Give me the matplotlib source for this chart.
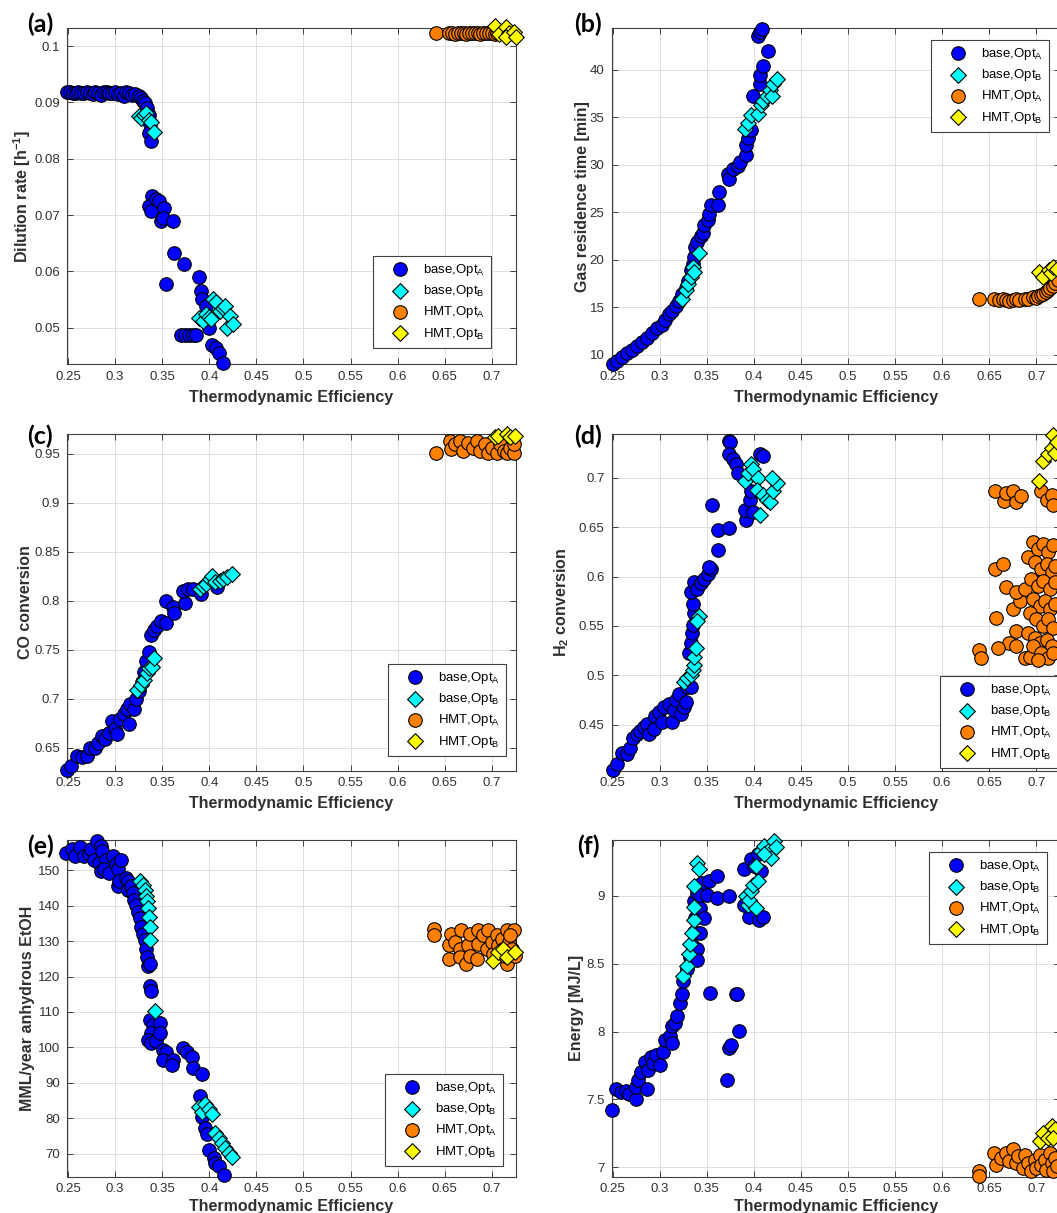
import matplotlib
matplotlib.use('Agg')
import matplotlib.pyplot as plt
from matplotlib.ticker import FormatStrFormatter

plt.rcParams['font.family'] = ['Liberation Sans', 'DejaVu Sans']
plt.rcParams['mathtext.fontset'] = 'custom'
plt.rcParams['mathtext.rm'] = 'Liberation Sans'

# ---------------- data: (a) dilution rate ----------------
a_baseA_x = [0.249, 0.252, 0.255, 0.258, 0.261, 0.264, 0.267, 0.270, 0.273, 0.276, 0.279, 0.282, 0.285,
             0.288, 0.291, 0.294, 0.297, 0.300, 0.303, 0.306, 0.309, 0.312, 0.315, 0.318, 0.321,
             0.325, 0.328, 0.330, 0.332, 0.334, 0.336, 0.337, 0.3358, 0.3376,
             0.3394, 0.3358, 0.3376, 0.343, 0.3466, 0.352, 0.3483, 0.3505,
             0.3617, 0.3627, 0.3735, 0.3537,
             0.3896, 0.391, 0.392, 0.3968, 0.400, 0.400,
             0.370, 0.374, 0.378, 0.383, 0.386,
             0.4033, 0.4076, 0.4104, 0.4148]
a_baseA_y = [0.0918, 0.0919, 0.0917, 0.0916, 0.0918, 0.0917, 0.0916, 0.0918, 0.0917, 0.0915, 0.0919, 0.0916, 0.0914,
             0.0918, 0.0919, 0.0917, 0.0916, 0.0918, 0.0915, 0.0917, 0.0912, 0.0919, 0.0916, 0.0913, 0.0915,
             0.0912, 0.0908, 0.0903, 0.0899, 0.0890, 0.0878, 0.0862, 0.0845, 0.0831,
             0.0734, 0.0716, 0.0707, 0.0728, 0.0725, 0.0713, 0.0689, 0.0695,
             0.0689, 0.0632, 0.0614, 0.0578,
             0.0590, 0.0566, 0.0551, 0.0539, 0.0515, 0.0499,
             0.0487, 0.0487, 0.0487, 0.0487, 0.0487,
             0.0470, 0.0464, 0.0455, 0.0437]
a_baseB_x = [0.325, 0.328, 0.331, 0.333, 0.3358, 0.3376, 0.3412,
             0.3896, 0.393, 0.3968, 0.400, 0.402, 0.404, 0.4075, 0.411, 0.4145, 0.4165, 0.4183, 0.422, 0.4255]
a_baseB_y = [0.0875, 0.0872, 0.0878, 0.0881, 0.0869, 0.0866, 0.0848,
             0.0518, 0.0512, 0.0524, 0.0520, 0.0515, 0.0551, 0.0545, 0.0530, 0.0535, 0.0539, 0.0500, 0.0521, 0.0506]
a_hmtA_x = [0.6408, 0.655, 0.658, 0.661, 0.664, 0.667, 0.670, 0.673, 0.676, 0.679, 0.682, 0.685, 0.688,
            0.691, 0.694, 0.697, 0.700, 0.703, 0.706, 0.709, 0.712, 0.715, 0.718, 0.721, 0.724]
a_hmtA_y = [0.1023, 0.1023, 0.1024, 0.1022, 0.1023, 0.1023, 0.1024, 0.1022, 0.1023, 0.1023, 0.1023, 0.1024, 0.1022,
            0.1023, 0.1023, 0.1024, 0.1023, 0.1022, 0.1023, 0.1024, 0.1023, 0.1022, 0.1023, 0.1024, 0.1022]
a_hmtB_x = [0.7036, 0.7072, 0.7151, 0.718, 0.7151, 0.7234, 0.7252]
a_hmtB_y = [0.1035, 0.1022, 0.1033, 0.1023, 0.1016, 0.1025, 0.1016]

# ---------------- data: (b) gas residence time ----------------
b_baseA_x = [0.2500, 0.2543, 0.2597, 0.2650, 0.2704, 0.2758, 0.2810, 0.2865, 0.2920, 0.2973, 0.3026, 0.3062,
             0.3100, 0.3134, 0.3170, 0.3205, 0.3241, 0.3277, 0.3306, 0.3330, 0.3350, 0.3366, 0.3374, 0.3402,
             0.3440, 0.3456, 0.3474, 0.3510, 0.3528, 0.3545, 0.3617, 0.3635, 0.3724, 0.3742, 0.3778, 0.3832,
             0.3850, 0.3920, 0.3914, 0.3940, 0.3975, 0.3993, 0.4065, 0.4065, 0.4100, 0.4154, 0.4047, 0.4065, 0.4090]
b_baseA_y = [9.1, 9.36, 9.8, 10.2, 10.5, 10.9, 11.35, 11.8, 12.3, 12.85, 13.2, 13.7,
             14.3, 14.6, 15.2, 15.7, 16.4, 17.1, 17.8, 18.9, 19.6, 20.3, 21.4, 21.9,
             22.5, 22.8, 23.7, 24.2, 24.8, 25.8, 25.8, 27.1, 29.0, 28.5, 29.6, 29.9,
             30.3, 31.0, 32.1, 32.8, 33.7, 37.2, 38.5, 39.5, 40.4, 42.0, 43.6, 44.0, 44.3]
b_baseB_x = [0.3241, 0.3277, 0.3306, 0.3330, 0.3350, 0.3366, 0.3420,
             0.3903, 0.3940, 0.3975, 0.4047, 0.4080, 0.4100, 0.4136, 0.4172, 0.4190, 0.4208, 0.4243]
b_baseB_y = [15.9, 16.8, 17.5, 18.2, 19.3, 18.7, 20.7,
             33.8, 34.4, 35.3, 35.4, 36.3, 36.7, 37.2, 37.9, 37.2, 38.5, 39.0]
b_hmtA_x = [0.6392, 0.6555, 0.6600, 0.6645, 0.6680, 0.6714, 0.6750, 0.6785, 0.6820, 0.6875, 0.6910,
            0.6964, 0.7000, 0.7020, 0.7050, 0.7070, 0.7100, 0.7126, 0.7150, 0.7180, 0.7200, 0.7230]
b_hmtA_y = [15.87, 15.87, 15.8, 15.9, 15.75, 15.7, 15.8, 15.9, 15.75, 15.9, 15.85,
            16.05, 16.0, 16.2, 16.3, 16.4, 16.6, 16.8, 17.0, 17.3, 17.6, 17.9]
b_hmtB_x = [0.703, 0.707, 0.714, 0.716, 0.718, 0.722]
b_hmtB_y = [18.7, 18.2, 18.9, 18.6, 19.3, 19.0]

# ---------------- data: (c) CO conversion ----------------
c_baseA_x = [0.249, 0.2536, 0.259, 0.2643, 0.2697, 0.2733, 0.279, 0.2823, 0.2859, 0.2895, 0.293, 0.2966,
             0.300, 0.302, 0.3056, 0.3092, 0.3128, 0.3145, 0.3163, 0.320, 0.3217, 0.3253, 0.3289, 0.3307,
             0.3325, 0.336, 0.3379, 0.3414, 0.345, 0.3486, 0.354, 0.354, 0.3612, 0.363, 0.3737, 0.372,
             0.377, 0.3827, 0.3916, 0.4078]
c_baseA_y = [0.627, 0.631, 0.641, 0.640, 0.641, 0.650, 0.650, 0.655, 0.662, 0.659, 0.665, 0.6775,
             0.669, 0.664, 0.679, 0.684, 0.689, 0.674, 0.695, 0.689, 0.700, 0.708, 0.717, 0.727,
             0.738, 0.748, 0.765, 0.770, 0.774, 0.779, 0.777, 0.800, 0.793, 0.7876, 0.798, 0.810,
             0.8117, 0.8117, 0.8066, 0.8134]
c_baseB_x = [0.3235, 0.327, 0.3307, 0.3343, 0.336, 0.3396, 0.3414,
             0.3898, 0.3934, 0.397, 0.4006, 0.4024, 0.406, 0.4114, 0.415, 0.4185, 0.424]
c_baseB_y = [0.7085, 0.7137, 0.7188, 0.7257, 0.7309, 0.7326, 0.7412,
             0.8117, 0.8151, 0.8169, 0.822, 0.8255, 0.8186, 0.8203, 0.822, 0.8238, 0.8272]
c_hmtA_x = [0.6409, 0.6552, 0.657, 0.6606, 0.666, 0.6696, 0.675, 0.6803, 0.684, 0.6875,
            0.693, 0.6965, 0.70, 0.7054, 0.709, 0.7126, 0.716, 0.7198, 0.7233, 0.7233]
c_hmtA_y = [0.951, 0.963, 0.9545, 0.9596, 0.963, 0.9527, 0.961, 0.956, 0.963, 0.9527,
            0.9596, 0.951, 0.956, 0.951, 0.9596, 0.9527, 0.951, 0.956, 0.951, 0.9596]
c_hmtB_x = [0.7036, 0.707, 0.716, 0.7198, 0.7245]
c_hmtB_y = [0.9665, 0.968, 0.9695, 0.9665, 0.968]

# ---------------- data: (d) H2 conversion ----------------
d_baseA_x = [0.25, 0.2543, 0.2597, 0.265, 0.2686, 0.272, 0.2758, 0.2794, 0.283, 0.2865, 0.2883, 0.2937,
             0.2955, 0.299, 0.3026, 0.3044, 0.31, 0.3134, 0.3152, 0.317, 0.3205, 0.3223, 0.3259, 0.3277,
             0.3295, 0.333, 0.3313, 0.333, 0.3341, 0.335, 0.3366, 0.335, 0.333, 0.3366, 0.3402, 0.344,
             0.3474, 0.351, 0.3546, 0.3527, 0.3556, 0.3617, 0.3617, 0.3742, 0.3735, 0.3752, 0.3742, 0.3778,
             0.3814, 0.3832, 0.3921, 0.3903, 0.3957, 0.3993, 0.4065, 0.41, 0.3975]
d_baseA_y = [0.4046, 0.4097, 0.4217, 0.42, 0.4268, 0.437, 0.4405, 0.4439, 0.4473, 0.4507, 0.4405, 0.4456,
             0.4592, 0.4627, 0.4524, 0.4678, 0.4712, 0.4524, 0.4644, 0.4746, 0.4814, 0.461, 0.4678, 0.4729,
             0.4883, 0.4883, 0.5224, 0.5327, 0.5429, 0.5514, 0.5634, 0.572, 0.5839, 0.5941, 0.5873, 0.594,
             0.5976, 0.6027, 0.6078, 0.6095, 0.6727, 0.647, 0.6266, 0.6488, 0.7376, 0.7359, 0.724, 0.7188,
             0.7137, 0.705, 0.6573, 0.6676, 0.6778, 0.6659, 0.724, 0.722, 0.6863]
d_baseB_x = [0.3259, 0.3295, 0.333, 0.335, 0.3366, 0.3366, 0.3384, 0.342, 0.3402,
             0.3903, 0.394, 0.3975, 0.3993, 0.4047, 0.403, 0.41, 0.4136, 0.4172, 0.4208, 0.4243, 0.419, 0.4065]
d_baseB_y = [0.4934, 0.4968, 0.5002, 0.5054, 0.5105, 0.519, 0.5275, 0.56, 0.5549,
             0.6966, 0.7051, 0.7137, 0.7085, 0.70, 0.688, 0.683, 0.678, 0.676, 0.6863, 0.6949, 0.70, 0.6624]
d_hmtA_x = [0.6563, 0.666, 0.6678, 0.675, 0.6785, 0.684, 0.7054, 0.711, 0.7162, 0.718,
            0.6563, 0.6649, 0.6678, 0.657, 0.675, 0.6822, 0.6785, 0.6875, 0.6785, 0.6714, 0.6589, 0.6392,
            0.641, 0.6875, 0.693, 0.6785,
            0.6912, 0.6964, 0.702, 0.707, 0.7126, 0.718, 0.699, 0.7054, 0.711, 0.7162, 0.72,
            0.6947, 0.702, 0.707, 0.7144, 0.72, 0.6964, 0.7036, 0.709, 0.7144, 0.72,
            0.693, 0.70, 0.707, 0.7126, 0.718, 0.6912, 0.699, 0.7036, 0.711, 0.7162,
            0.6964, 0.7054, 0.7126, 0.718, 0.702]
d_hmtA_y = [0.687, 0.6768, 0.6846, 0.6863, 0.676, 0.6812, 0.687, 0.678, 0.683, 0.6727,
            0.6078, 0.6129, 0.589, 0.5583, 0.5668, 0.5754, 0.5839, 0.5873, 0.5446, 0.5327, 0.5275, 0.5258,
            0.5173, 0.5173, 0.519, 0.5292,
            0.6197, 0.635, 0.6283, 0.6334, 0.6249, 0.6317, 0.6146, 0.6078, 0.6129, 0.6044, 0.6112,
            0.5976, 0.5907, 0.5958, 0.5873, 0.5941, 0.5771, 0.5702, 0.5754, 0.5668, 0.572,
            0.5634, 0.5566, 0.5497, 0.5566, 0.548, 0.5429, 0.5378, 0.5327, 0.5361, 0.5292,
            0.5292, 0.5224, 0.5173, 0.5224, 0.5156]
d_hmtB_x = [0.703, 0.707, 0.7126, 0.7162, 0.718, 0.72, 0.7215]
d_hmtB_y = [0.6973, 0.7171, 0.724, 0.7307, 0.7435, 0.7256, 0.7358]

# ---------------- data: (e) MML/year anhydrous EtOH ----------------
e_baseA_x = [0.2482, 0.2543, 0.2579, 0.2632, 0.2668, 0.2722, 0.2747, 0.2776, 0.2804, 0.2847, 0.2829, 0.2865,
             0.2847, 0.2901, 0.2883, 0.2937, 0.2973, 0.3008, 0.3026, 0.3062, 0.3026, 0.3044, 0.3116, 0.3134,
             0.3134, 0.317, 0.3187, 0.3205, 0.3223, 0.3241, 0.3259, 0.3277, 0.3295, 0.3313, 0.333, 0.3341,
             0.335, 0.3366, 0.3366, 0.3384, 0.3366, 0.3402, 0.3384, 0.335, 0.3384, 0.3438, 0.3474, 0.3474,
             0.351, 0.3545, 0.351, 0.3617, 0.36, 0.3724, 0.376, 0.3814, 0.3832, 0.3921, 0.3903, 0.3921,
             0.3957, 0.3975, 0.3993, 0.4047, 0.4065, 0.41, 0.4154]
e_baseA_y = [154.9, 155.9, 154.0, 156.4, 154.0, 154.5, 155.9, 153.0, 158.3, 156.9, 152.1, 155.4,
             149.7, 153.0, 150.2, 149.2, 154.0, 151.6, 150.2, 153.0, 145.4, 146.9, 147.8, 146.9,
             144.5, 145.4, 143.5, 141.6, 140.2, 138.3, 136.4, 134.0, 132.1, 130.2, 127.8, 125.5,
             123.1, 123.6, 117.4, 116.0, 107.8, 106.4, 104.0, 102.1, 101.2, 101.7, 106.9, 104.0,
             99.3, 98.8, 96.4, 96.4, 95.0, 99.8, 98.8, 97.4, 94.1, 92.6, 86.4, 80.3,
             77.4, 75.5, 71.2, 68.8, 67.4, 66.5, 63.9]
e_baseB_x = [0.3259, 0.3295, 0.3313, 0.333, 0.3341, 0.335, 0.3356, 0.3366, 0.3374, 0.342,
             0.3886, 0.3921, 0.3957, 0.3993, 0.4029, 0.4065, 0.41, 0.4136, 0.4172, 0.4208, 0.4243]
e_baseB_y = [146.9, 145.9, 144.5, 142.6, 141.2, 139.2, 136.9, 134.0, 130.2, 110.2,
             83.1, 81.7, 84.1, 82.6, 81.2, 76.0, 74.5, 73.1, 71.7, 70.3, 69.0]
e_hmtA_x = [0.6391, 0.6391, 0.6551, 0.6551, 0.657, 0.6605, 0.6659, 0.6659, 0.6677, 0.673, 0.6748,
            0.6766, 0.6766, 0.6838, 0.6855, 0.6855, 0.6909, 0.6945, 0.6963, 0.70, 0.7016, 0.7052,
            0.707, 0.7106, 0.7124, 0.716, 0.716, 0.7178, 0.7213, 0.7231, 0.7249, 0.7195, 0.7142]
e_hmtA_y = [133.5, 131.6, 128.8, 125.0, 132.1, 129.7, 127.8, 125.5, 133.1, 123.5, 128.8,
            125.9, 132.1, 125.0, 129.3, 133.1, 131.6, 127.8, 133.1, 129.7, 126.4, 131.6,
            128.8, 130.7, 127.8, 133.1, 123.5, 129.7, 127.8, 133.1, 125.9, 131.6, 125.9]
e_hmtB_x = [0.7016, 0.707, 0.7124, 0.716, 0.7249]
e_hmtB_y = [124.5, 126.9, 127.8, 125.5, 126.9]

# ---------------- data: (f) energy ----------------
f_baseA_x = [0.2493, 0.2536, 0.259, 0.2643, 0.2679, 0.2744, 0.2751, 0.2769, 0.2805, 0.2841, 0.2866, 0.2877,
             0.2912, 0.293, 0.2966, 0.3002, 0.3038, 0.3056, 0.311, 0.3128, 0.3128, 0.3163, 0.3181, 0.3217,
             0.3235, 0.3253, 0.3289, 0.3325, 0.3343, 0.336, 0.3378, 0.336, 0.3396, 0.3414, 0.345, 0.3432,
             0.3468, 0.3432, 0.3396, 0.3396, 0.3432, 0.3504, 0.3522, 0.3611, 0.3611, 0.3737, 0.354, 0.3719,
             0.3737, 0.3755, 0.381, 0.3827, 0.3845, 0.3898, 0.3898, 0.3952, 0.397, 0.4006, 0.4059, 0.4095,
             0.4041, 0.4077]
f_baseA_y = [7.422, 7.579, 7.554, 7.566, 7.542, 7.504, 7.591, 7.641, 7.703, 7.778, 7.574, 7.716,
             7.815, 7.765, 7.827, 7.753, 7.852, 7.939, 7.964, 7.914, 8.038, 8.063, 8.113, 8.212,
             8.275, 8.374, 8.461, 8.548, 8.635, 8.734, 8.834, 8.958, 9.02, 9.082, 9.094, 8.908,
             8.834, 8.722, 8.61, 8.523, 9.007, 9.007, 9.107, 9.144, 8.983, 8.995, 8.287, 7.641,
             7.877, 7.902, 8.275, 8.275, 8.001, 9.194, 8.933, 8.846, 9.268, 9.219, 8.821, 8.846,
             9.306, 9.181]
f_baseB_x = [0.3253, 0.3289, 0.3307, 0.3325, 0.3343, 0.336, 0.336, 0.336, 0.3396, 0.3414,
             0.3916, 0.3934, 0.3952, 0.397, 0.3988, 0.4023, 0.4041, 0.4023, 0.4077, 0.4113, 0.4149,
             0.4185, 0.422, 0.4238, 0.4113]
f_baseB_y = [8.411, 8.486, 8.573, 8.647, 8.722, 8.821, 8.92, 9.07, 9.243, 9.194,
             8.995, 8.933, 8.97, 9.032, 9.082, 8.908, 9.107, 9.219, 9.33, 9.368, 9.33,
             9.281, 9.40, 9.355, 9.306]
f_hmtA_x = [0.639, 0.639, 0.6552, 0.657, 0.6624, 0.6678, 0.6713, 0.6749, 0.6785, 0.6803, 0.6857, 0.6875,
            0.6911, 0.6947, 0.6982, 0.70, 0.7036, 0.7054, 0.709, 0.7108, 0.7144, 0.7162, 0.718, 0.7198, 0.7215]
f_hmtA_y = [6.97, 6.94, 7.107, 7.02, 7.07, 7.107, 7.045, 7.132, 7.032, 7.082, 6.995, 7.094,
            7.032, 6.97, 7.057, 6.995, 7.094, 7.02, 7.057, 6.983, 7.107, 7.032, 6.97, 7.07, 7.008]
f_hmtB_x = [0.7036, 0.7072, 0.7126, 0.7162, 0.7198, 0.718]
f_hmtB_y = [7.194, 7.256, 7.219, 7.306, 7.281, 7.219]

x_ticks = [0.25, 0.3, 0.35, 0.4, 0.45, 0.5, 0.55, 0.6, 0.65, 0.7]
series_names = ['base,Opt$_\\mathregular{A}$', 'base,Opt$_\\mathregular{B}$',
                'HMT,Opt$_\\mathregular{A}$', 'HMT,Opt$_\\mathregular{B}$']

# Panel definitions
panels = [
    ('(a)', 'Dilution rate [h$^{\\mathregular{-1}}$]', (0.0435, 0.1032), [0.05, 0.06, 0.07, 0.08, 0.09, 0.1],
     [(a_baseA_x, a_baseA_y), (a_baseB_x, a_baseB_y), (a_hmtA_x, a_hmtA_y), (a_hmtB_x, a_hmtB_y)]),
    ('(b)', 'Gas residence time [min]', (9.0, 44.4), [10, 15, 20, 25, 30, 35, 40],
     [(b_baseA_x, b_baseA_y), (b_baseB_x, b_baseB_y), (b_hmtA_x, b_hmtA_y), (b_hmtB_x, b_hmtB_y)]),
    ('(c)', 'CO conversion', (0.6267, 0.970), [0.65, 0.7, 0.75, 0.8, 0.85, 0.9, 0.95],
     [(c_baseA_x, c_baseA_y), (c_baseB_x, c_baseB_y), (c_hmtA_x, c_hmtA_y), (c_hmtB_x, c_hmtB_y)]),
    ('(d)', 'H$_\\mathregular{2}$ conversion', (0.4036, 0.7444), [0.45, 0.5, 0.55, 0.6, 0.65, 0.7],
     [(d_baseA_x, d_baseA_y), (d_baseB_x, d_baseB_y), (d_hmtA_x, d_hmtA_y), (d_hmtB_x, d_hmtB_y)]),
    ('(e)', 'MML/year anhydrous EtOH', (63.6, 158.5), [70, 80, 90, 100, 110, 120, 130, 140, 150],
     [(e_baseA_x, e_baseA_y), (e_baseB_x, e_baseB_y), (e_hmtA_x, e_hmtA_y), (e_hmtB_x, e_hmtB_y)]),
    ('(f)', 'Energy [MJ/L]', (6.933, 9.41), [7, 7.5, 8, 8.5, 9],
     [(f_baseA_x, f_baseA_y), (f_baseB_x, f_baseB_y), (f_hmtA_x, f_hmtA_y), (f_hmtB_x, f_hmtB_y)]),
]

W, H = 1057, 1213
fig = plt.figure(figsize=(W / 100, H / 100), dpi=100)

# axes boxes in pixels: left, top (width/height shared)
boxes = [(67, 28), (611.5, 28), (67, 434), (611.5, 434), (67, 840), (611.5, 840)]
ax_w, ax_h = 448.5, 336.5
ylabel_x = [-0.076, -0.048, -0.076, -0.090, -0.071, -0.061]
# legend top-left corners in pixels
legend_pos = [(373, 256), (931, 40), (388, 664), (940, 676), (385, 1074), (929, 852)]
tag_pos = [(40, 24), (588, 24), (40, 436), (588, 436), (40, 846), (588, 846)]

styles = [dict(marker='o', c='#0000ff', s=95),
          dict(marker='D', c='#00ffff', s=64),
          dict(marker='o', c='#ff8000', s=95),
          dict(marker='D', c='#ffff00', s=64)]

for i, (tag, ylab, ylim, yticks, data) in enumerate(panels):
    l, t = boxes[i]
    ax = fig.add_axes([l / W, 1 - (t + ax_h) / H, ax_w / W, ax_h / H])
    for (xs, ys), st, name in zip(data, styles, series_names):
        ax.scatter(xs, ys, edgecolors='black', linewidths=0.8, label=name, clip_on=False, zorder=3, **st)
    ax.set_xlim(0.2489, 0.7252)
    ax.set_ylim(*ylim)
    ax.set_xticks(x_ticks)
    ax.set_yticks(yticks)
    ax.xaxis.set_major_formatter(FormatStrFormatter('%g'))
    ax.yaxis.set_major_formatter(FormatStrFormatter('%g'))
    ax.grid(True, color='#dedede', linewidth=0.7)
    ax.set_axisbelow(True)
    ax.tick_params(direction='in', top=True, right=True, length=4, width=0.7,
                   color='#404040', labelcolor='#303030', labelsize=9.5, pad=5)
    for sp in ax.spines.values():
        sp.set_color('#404040')
        sp.set_linewidth(0.8)
    ax.set_xlabel('Thermodynamic Efficiency', fontsize=11.5, fontweight='bold', color='#303030',
                  labelpad=5 if i < 4 else 2.5)
    ax.set_ylabel(ylab, fontsize=11.5, fontweight='bold', color='#303030')
    ax.yaxis.set_label_coords(ylabel_x[i], 0.5)
    lx, ly = legend_pos[i]
    leg = ax.legend(loc='upper left', bbox_to_anchor=(lx / W, 1 - ly / H), bbox_transform=fig.transFigure,
                    borderaxespad=0, fontsize=9.5, frameon=True, fancybox=False, framealpha=1,
                    handlelength=3.2, handletextpad=0.15, labelspacing=0.4, borderpad=0.45)
    leg.get_frame().set_edgecolor('#404040')
    leg.get_frame().set_linewidth(0.8)
    tx, ty = tag_pos[i]
    fig.text(tx / W, 1 - ty / H, tag, fontsize=18, fontweight='bold', family=['Lato', 'DejaVu Sans'],
             ha='center', va='center', color='black')

fig.savefig('out.png', dpi=100)
